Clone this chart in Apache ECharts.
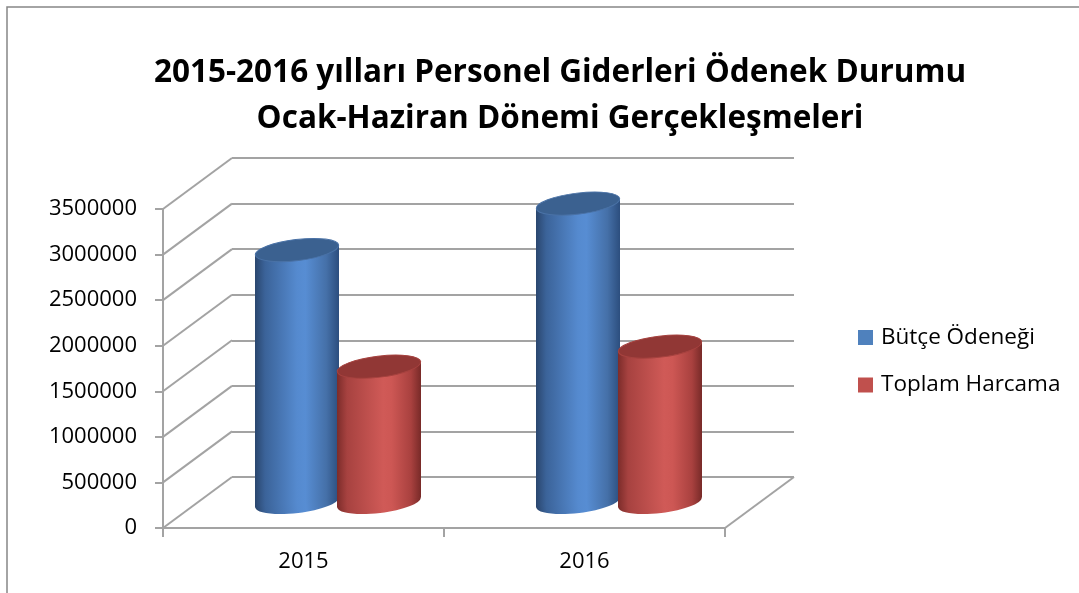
<!DOCTYPE html>
<html><head><meta charset="utf-8">
<script src="https://cdn.jsdelivr.net/npm/echarts@6/dist/echarts.min.js"></script>
<style>html,body{margin:0;padding:0;background:#fff}#c{width:1079px;height:593px}</style>
</head><body><div id="c"></div>
<script>
// ---- data ----
const categories = ['2015', '2016'];
const seriesNames = ['Bütçe Ödeneği', 'Toplam Harcama'];
const butceOdenegi = [2770000, 3280000];
const toplamHarcama = [1490000, 1710000];
const yTicks = [0, 500000, 1000000, 1500000, 2000000, 2500000, 3000000, 3500000];
const titleLines = ['2015-2016 yılları Personel Giderleri Ödenek Durumu', 'Ocak-Haziran Dönemi Gerçekleşmeleri'];

// ---- layout / style ----
const FRONT = {left: 163, top: 209, width: 562, height: 319};
const DX = 69, DY = -51;            // depth of the 3D box
const BW = 84, SHIFT = 41, RY = 10.5, ROT = 0.12;
const GRID_COLOR = '#a3a3a3';
const FONT = '"Open Sans", sans-serif';

const palettes = [
  {legend: '#4f81bd', top: '#3b6190', rim: '#4a72a6',
   body: [{offset: 0, color: '#2a466e'}, {offset: 0.12, color: '#3b6399'}, {offset: 0.5, color: '#558acf'},
          {offset: 0.6, color: '#578dd3'}, {offset: 0.85, color: '#4570a8'}, {offset: 1, color: '#2c4e7e'}]},
  {legend: '#c0504d', top: '#913735', rim: '#a6423f',
   body: [{offset: 0, color: '#7c2c2a'}, {offset: 0.12, color: '#a74240'}, {offset: 0.55, color: '#d05a57'},
          {offset: 0.65, color: '#cd5754'}, {offset: 0.88, color: '#a9413f'}, {offset: 1, color: '#782a28'}]}
];

function cylinder(pal, side) {
  return function (params, api) {
    const i = api.value(0), v = api.value(1);
    const p0 = api.coord([i, 0]), p1 = api.coord([i, v]);
    const cx = p0[0] + DX / 2 + side * SHIFT;
    const by = p0[1] + DY / 2, ty = p1[1] + DY / 2;
    const rx = BW / 2, s = rx * Math.sin(ROT);
    const grad = {type: 'linear', x: 0, y: 0, x2: 1, y2: 0, colorStops: pal.body};
    return {type: 'group', children: [
      {type: 'ellipse', shape: {cx: cx, cy: by, rx: rx, ry: RY}, rotation: ROT, originX: cx, originY: by,
       style: {fill: grad}},
      {type: 'polygon', shape: {points: [[cx - rx, ty + s], [cx + rx, ty - s], [cx + rx, by - s], [cx - rx, by + s]]},
       style: {fill: grad}},
      {type: 'ellipse', shape: {cx: cx, cy: ty, rx: rx, ry: RY}, rotation: ROT, originX: cx, originY: ty,
       style: {fill: pal.top, stroke: pal.rim, lineWidth: 1}}
    ]};
  };
}

const chart = echarts.init(document.getElementById('c'), null, {renderer: 'canvas'});
const labelStyle = {color: '#000', fontFamily: FONT, fontSize: 22};

chart.setOption({
  animation: false,
  backgroundColor: '#fff',
  graphic: [
    {type: 'rect', shape: {x: 7, y: 7, width: 1200, height: 700}, style: {fill: 'none', stroke: '#868686', lineWidth: 1.5}, z: -10},
    {type: 'text', x: 560, y: 73, style: {text: titleLines[0], fontFamily: FONT, fontWeight: 'bold', fontSize: 31.5, fill: '#000', align: 'center', verticalAlign: 'middle'}},
    {type: 'text', x: 560, y: 119, style: {text: titleLines[1], fontFamily: FONT, fontWeight: 'bold', fontSize: 31.5, fill: '#000', align: 'center', verticalAlign: 'middle'}}
  ],
  legend: {
    data: seriesNames, orient: 'vertical', left: 858, top: 326, padding: 0,
    itemWidth: 15, itemHeight: 15, itemGap: 24.5, icon: 'rect',
    textStyle: {color: '#000', fontFamily: FONT, fontSize: 22.5, padding: [0, 0, 0, 3]}
  },
  grid: [
    {left: FRONT.left, top: FRONT.top, width: FRONT.width, height: FRONT.height},
    {left: FRONT.left + DX, top: FRONT.top + DY, width: FRONT.width, height: FRONT.height}
  ],
  xAxis: [
    {type: 'category', gridIndex: 0, data: categories, boundaryGap: true,
     axisLine: {lineStyle: {color: GRID_COLOR, width: 2}},
     axisTick: {show: true, length: 9, lineStyle: {color: GRID_COLOR, width: 2}},
     axisLabel: Object.assign({margin: 23}, labelStyle)},
    {type: 'category', gridIndex: 1, data: categories, show: false}
  ],
  yAxis: [
    {type: 'value', gridIndex: 0, min: 0, max: 3500000, interval: 500000,
     axisLine: {show: true, lineStyle: {color: GRID_COLOR, width: 2}},
     axisTick: {show: true, length: 8, lineStyle: {color: GRID_COLOR, width: 2}},
     splitLine: {show: false},
     axisLabel: Object.assign({margin: 26, formatter: function (v) { return String(v); }}, labelStyle)},
    {type: 'value', gridIndex: 1, min: 0, max: 3500000, interval: 500000,
     axisLine: {show: false}, axisTick: {show: false}, axisLabel: {show: false},
     splitLine: {show: true, showMinLine: true, showMaxLine: true, lineStyle: {color: GRID_COLOR, width: 2}}}
  ],
  series: [
    {type: 'custom', name: 'walls', silent: true, xAxisIndex: 0, yAxisIndex: 0, z: 1,
     data: yTicks.map(v => [0, v]),
     renderItem: function (params, api) {
       const p = api.coord([0, api.value(1)]);
       const x0 = p[0] - api.size([1, 0])[0] / 2;
       return {type: 'line', shape: {x1: x0, y1: p[1], x2: x0 + DX, y2: p[1] + DY}, style: {stroke: GRID_COLOR, lineWidth: 2}};
     }},
    {type: 'custom', name: 'floor', silent: true, xAxisIndex: 0, yAxisIndex: 0, z: 1,
     data: [[categories.length - 1, 0]],
     renderItem: function (params, api) {
       const p = api.coord([api.value(0), 0]);
       const x0 = p[0] + api.size([1, 0])[0] / 2;
       return {type: 'line', shape: {x1: x0, y1: p[1], x2: x0 + DX, y2: p[1] + DY}, style: {stroke: GRID_COLOR, lineWidth: 2}};
     }},
    {type: 'custom', name: seriesNames[0], xAxisIndex: 0, yAxisIndex: 0, z: 3,
     itemStyle: {color: palettes[0].legend},
     data: butceOdenegi.map((v, i) => [i, v]), renderItem: cylinder(palettes[0], -1)},
    {type: 'custom', name: seriesNames[1], xAxisIndex: 0, yAxisIndex: 0, z: 4,
     itemStyle: {color: palettes[1].legend},
     data: toplamHarcama.map((v, i) => [i, v]), renderItem: cylinder(palettes[1], 1)}
  ]
});
</script>
</body></html>
